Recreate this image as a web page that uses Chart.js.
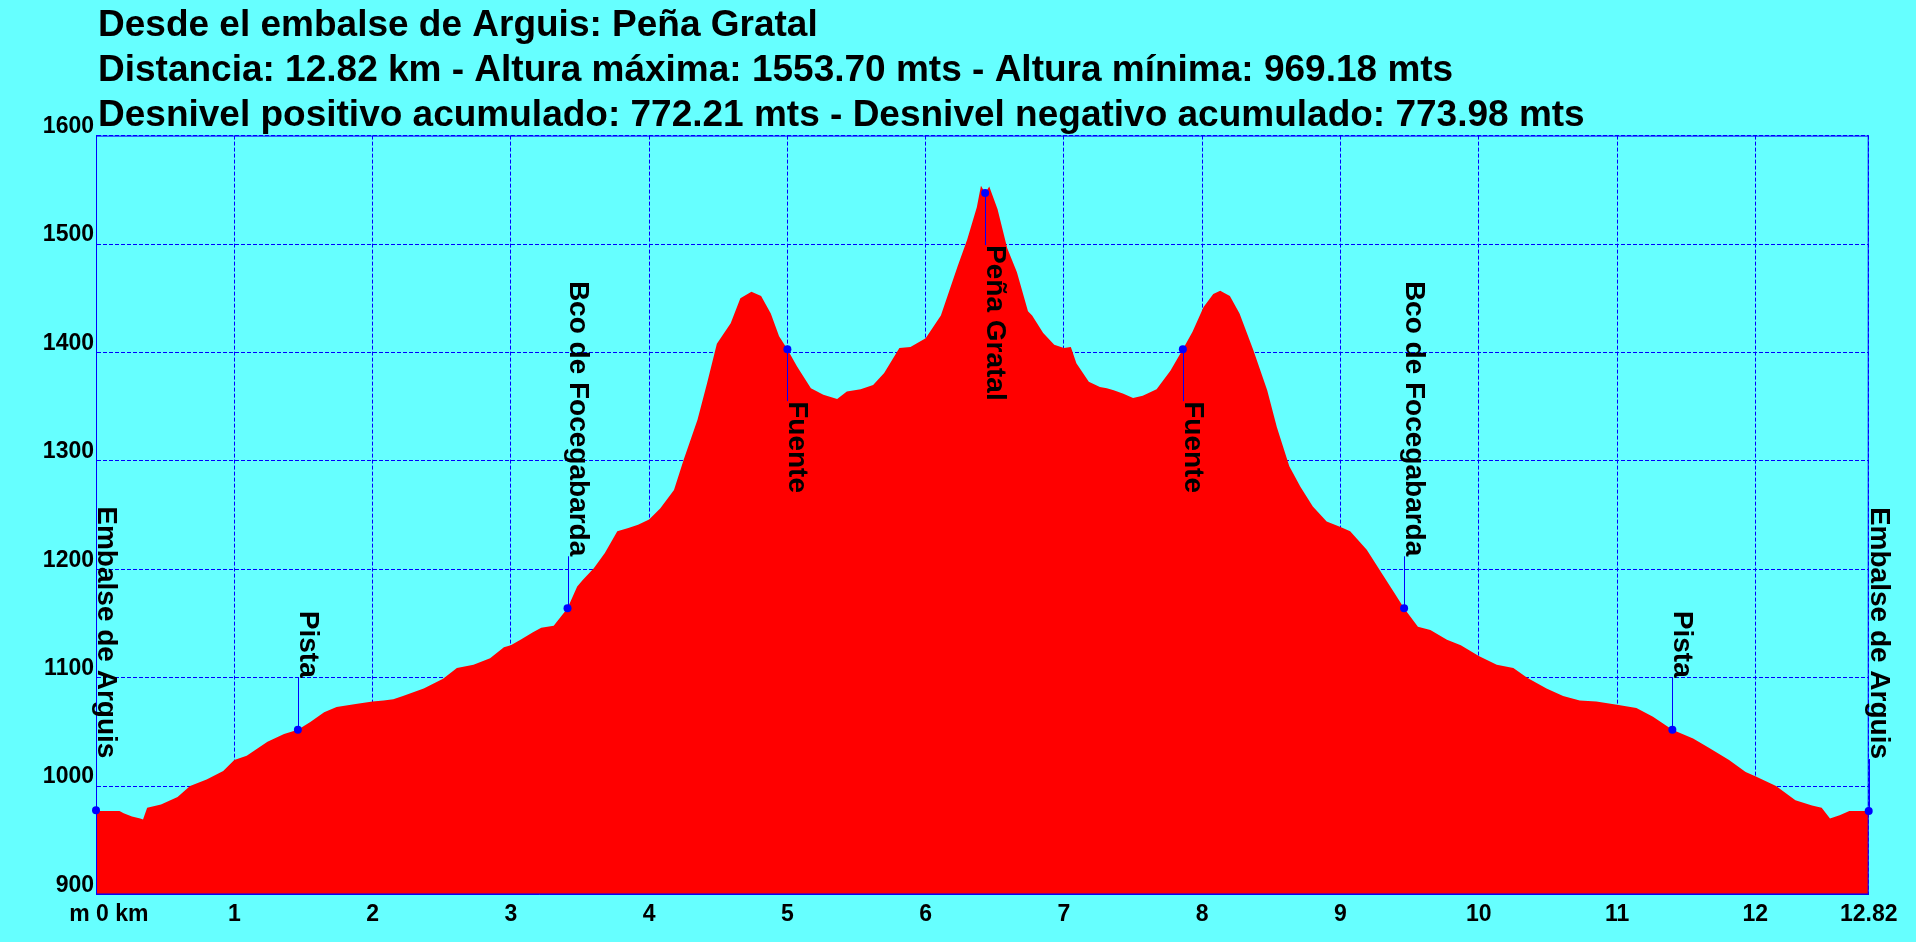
<!DOCTYPE html>
<html lang="es">
<head>
<meta charset="UTF-8">
<title>Desde el embalse de Arguis: Peña Gratal</title>
<script src="https://cdn.jsdelivr.net/npm/chart.js"></script>
<style>
    html, body {
        margin: 0;
        padding: 0;
        background-color: #66ffff;
        overflow: hidden;
    }
    canvas { display: block; }
</style>
</head>
<body>
<canvas id="perfil" width="1916" height="942"></canvas>
<script>
    // cabecera
    const titleLines = [
        'Desde el embalse de Arguis: Peña Gratal',
        'Distancia: 12.82 km - Altura máxima: 1553.70 mts - Altura mínima: 969.18 mts',
        'Desnivel positivo acumulado: 772.21 mts - Desnivel negativo acumulado: 773.98 mts'
    ];

    // perfil (km / metros)
    const distKm = [
        0.00, 0.10, 0.17, 0.20, 0.26, 0.32, 0.34, 0.37, 0.47, 0.59, 0.68, 0.80, 0.92,
        1.00, 1.09, 1.24, 1.36, 1.46, 1.55, 1.65, 1.74, 1.89, 2.00, 2.08, 2.15, 2.22,
        2.37, 2.51, 2.61, 2.73, 2.85, 2.95, 3.00, 3.07, 3.16, 3.22, 3.31, 3.41, 3.48,
        3.52, 3.60, 3.68, 3.77, 3.85, 3.92, 4.00, 4.08, 4.18, 4.25, 4.35, 4.42, 4.49,
        4.59, 4.66, 4.74, 4.81, 4.88, 4.94, 5.00, 5.07, 5.17, 5.26, 5.36, 5.43, 5.53,
        5.62, 5.70, 5.81, 5.89, 6.00, 6.11, 6.23, 6.30, 6.37, 6.40, 6.43, 6.46, 6.52,
        6.59, 6.66, 6.74, 6.77, 6.85, 6.93, 7.00, 7.05, 7.09, 7.18, 7.26, 7.31, 7.36,
        7.43, 7.50, 7.57, 7.67, 7.77, 7.86, 7.93, 8.01, 8.08, 8.13, 8.20, 8.27, 8.37,
        8.47, 8.54, 8.63, 8.71, 8.80, 8.90, 9.00, 9.07, 9.19, 9.31, 9.39, 9.46, 9.56,
        9.65, 9.77, 9.87, 10.00, 10.13, 10.25, 10.35, 10.49, 10.61, 10.73, 10.85, 11.00,
        11.14, 11.26, 11.40, 11.55, 11.67, 11.81, 11.93, 12.00, 12.15, 12.29, 12.41,
        12.48, 12.54, 12.61, 12.68, 12.76, 12.82
    ];
    const altitud = [
        977, 977, 977, 975, 972, 970, 969.2, 980, 983, 990, 1000, 1006, 1014,
        1024, 1028, 1041, 1048, 1052, 1059, 1068, 1073, 1076, 1078, 1079, 1080, 1083,
        1090, 1099, 1109, 1112, 1118, 1128, 1130, 1135, 1142, 1146, 1148, 1164, 1184,
        1190, 1201, 1215, 1235, 1238, 1241, 1246, 1256, 1273, 1301, 1338, 1372, 1408,
        1427, 1450, 1456, 1452, 1436, 1415, 1403, 1387, 1367, 1361, 1357, 1364, 1366,
        1370, 1381, 1404, 1405, 1413, 1434, 1479, 1504, 1534, 1553.7, 1547, 1553, 1532,
        1496, 1474, 1438, 1434, 1418, 1407, 1404, 1405, 1390, 1373, 1368, 1367, 1365,
        1362, 1358, 1360, 1366, 1383, 1403, 1419, 1442, 1454, 1457, 1452, 1436, 1402,
        1365, 1331, 1295, 1276, 1258, 1244, 1239, 1235, 1218, 1194, 1178, 1164, 1147,
        1144, 1135, 1130, 1120, 1112, 1109, 1100, 1090, 1083, 1079, 1078, 1075,
        1072, 1064, 1052, 1044, 1035, 1024, 1013, 1009, 1000, 987, 982,
        980, 970, 973, 977, 977, 977
    ];

    // puntos de paso
    const wpNames = ['Embalse de Arguis', 'Pista', 'Bco de Focegabarda', 'Fuente', 'Peña Gratal',
                     'Fuente', 'Bco de Focegabarda', 'Pista', 'Embalse de Arguis'];
    const wpKm = [0, 1.46, 3.41, 5.00, 6.43, 7.86, 9.46, 11.40, 12.82];
    const wpAlt = [977.6, 1052, 1164, 1403, 1547, 1403, 1164, 1052, 977];

    // ejes
    const xTicks = [0, 1, 2, 3, 4, 5, 6, 7, 8, 9, 10, 11, 12, 12.82];
    const yTicks = [900, 1000, 1100, 1200, 1300, 1400, 1500, 1600];

    const FONT = '"Liberation Sans", Arial, sans-serif';

    // titulo en tres lineas
    const cabecera = {
        id: 'cabecera',
        afterDraw(chart) {
            const ctx = chart.ctx;
            ctx.save();
            ctx.fillStyle = '#000000';
            ctx.font = 'bold 37px ' + FONT;
            ctx.textBaseline = 'alphabetic';
            titleLines.forEach((t, i) => ctx.fillText(t, 98, 36 + i * 45));
            ctx.restore();
        }
    };

    // marco del grafico + etiquetas verticales de los puntos de paso
    const etiquetas = {
        id: 'etiquetas',
        afterDraw(chart) {
            const ctx = chart.ctx;
            const a = chart.chartArea;
            const xs = chart.scales.x, ys = chart.scales.y;
            ctx.save();
            ctx.strokeStyle = '#0000ff';
            ctx.lineWidth = 1;
            ctx.strokeRect(a.left + 0.5, a.top + 0.5, a.right - a.left - 1, a.bottom - a.top - 1);

            ctx.font = 'bold 28px ' + FONT;
            ctx.fillStyle = '#000000';
            ctx.textBaseline = 'alphabetic';
            const gap = 52;
            wpNames.forEach((name, i) => {
                const px = Math.round(xs.getPixelForValue(wpKm[i])) + 0.5;
                const py = ys.getPixelForValue(wpAlt[i]);
                const w = ctx.measureText(name).width;
                const abajo = wpAlt[i] > 1350;
                const yEnd = abajo ? py + gap : py - gap;
                ctx.beginPath();
                ctx.moveTo(px, py);
                ctx.lineTo(px, yEnd);
                ctx.stroke();
                const yStart = abajo ? yEnd : yEnd - w;
                ctx.save();
                ctx.translate(px, yStart);
                ctx.rotate(Math.PI / 2);
                ctx.fillText(name, 0, -1);
                ctx.restore();
            });
            ctx.restore();
        }
    };

    const tickFont = { family: FONT, size: 23, weight: 'bold' };

    new Chart(document.getElementById('perfil').getContext('2d'), {
        type: 'line',
        data: {
            datasets: [{
                label: 'perfil',
                data: distKm.map((d, i) => ({ x: d, y: altitud[i] })),
                fill: 'start',
                backgroundColor: '#ff0000',
                borderWidth: 0,
                pointRadius: 0,
                tension: 0,
                order: 2
            }, {
                label: 'puntos',
                data: wpKm.map((d, i) => ({ x: d, y: wpAlt[i] })),
                showLine: false,
                pointRadius: 4,
                pointBackgroundColor: '#0000ff',
                pointBorderWidth: 0,
                clip: false,
                order: 1
            }]
        },
        options: {
            responsive: false,
            animation: false,
            events: [],
            layout: { padding: { top: 135.6, right: 47.3, left: 0, bottom: 0 } },
            plugins: {
                legend: { display: false },
                tooltip: { enabled: false }
            },
            scales: {
                x: {
                    type: 'linear',
                    min: 0,
                    max: 12.82,
                    z: 1,
                    afterBuildTicks: s => { s.ticks = xTicks.map(v => ({ value: v })); },
                    afterFit: s => { s.height = 47.5; },
                    grid: { color: '#0000ff', lineWidth: 1, drawTicks: false },
                    border: { display: true, color: '#0000ff', width: 1, dash: [4, 2] },
                    ticks: {
                        color: '#000000',
                        font: tickFont,
                        padding: 6,
                        maxRotation: 0,
                        autoSkip: false,
                        callback: v => v === 0 ? '    m 0 km' : String(v)
                    }
                },
                y: {
                    type: 'linear',
                    min: 900,
                    max: 1600,
                    z: 1,
                    afterBuildTicks: s => { s.ticks = yTicks.map(v => ({ value: v })); },
                    afterFit: s => { s.width = 96; },
                    grid: { color: '#0000ff', lineWidth: 1, drawTicks: false },
                    border: { display: true, color: '#0000ff', width: 1, dash: [4, 2] },
                    ticks: {
                        color: '#000000',
                        font: tickFont,
                        padding: 2,
                        labelOffset: -9,
                        autoSkip: false,
                        callback: v => String(v)
                    }
                }
            }
        },
        plugins: [cabecera, etiquetas]
    });
</script>
</body>
</html>
